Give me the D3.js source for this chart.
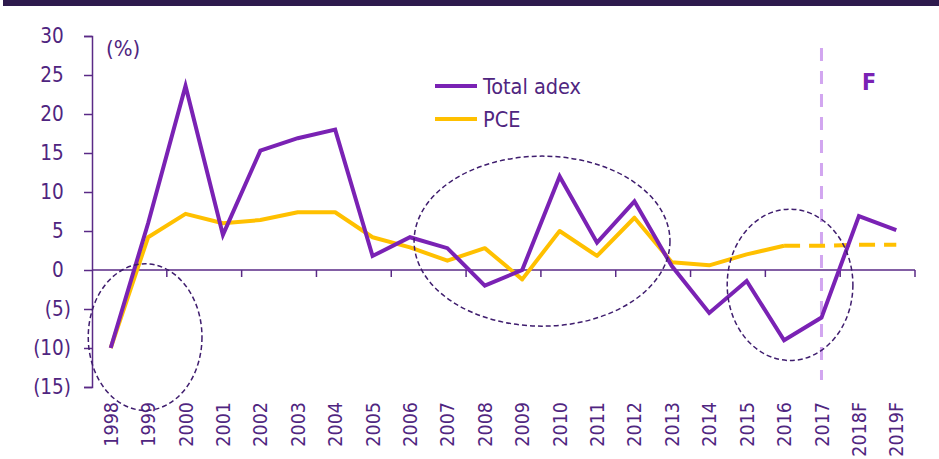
<!DOCTYPE html>
<html>
<head>
<meta charset="utf-8">
<script src="https://cdn.jsdelivr.net/npm/d3@7"></script>
<style>
  html, body { margin: 0; padding: 0; background: #fff; }
  .chart text { font-family: "DejaVu Sans Condensed", "DejaVu Sans", sans-serif; }
</style>
</head>
<body>
<div class="chart"></div>
<script>
// Categories on the x axis
const years = ["1998", "1999", "2000", "2001", "2002", "2003", "2004", "2005", "2006", "2007", "2008",
    "2009", "2010", "2011", "2012", "2013", "2014", "2015", "2016", "2017", "2018F", "2019F"]
// Growth, %
const totalAdex = [-10, 6, 23.6, 4.5, 15.3, 16.9, 18.0, 1.8, 4.2, 2.8, -2.0,
    0, 12.0, 3.5, 8.8, 0.5, -5.5, -1.4, -9.0, -6.1, 6.9, 5.1]
const pce = [-10, 4.2, 7.2, 6.0, 6.4, 7.4, 7.4, 4.2, 2.9, 1.2, 2.8,
    -1.2, 5.0, 1.8, 6.7, 1.0, 0.6, 2.0, 3.1, 3.1, 3.25, 3.25]
// PCE is drawn dashed from this year on
const pceDashFrom = "2016"
// Forecast divider sits on this year
const forecastAt = "2017"
// Y ticks
const yTicks = [-15, -10, -5, 0, 5, 10, 15, 20, 25, 30]
// Highlight ellipses: centre (category index, value), radii (categories, value units)
const ellipses = [
    {cx: 0.92, cy: -8.6, rx: 1.52, ry: 9.4},
    {cx: 11.53, cy: 3.7, rx: 3.42, ry: 10.9},
    {cx: 18.16, cy: -1.9, rx: 1.68, ry: 9.7}
]

const width = 939
const height = 459
const margin = {top: 36, right: 24, bottom: 72, left: 92}

const purple = "#7a22b4"
const yellow = "#ffc000"
const ink = "#4f2580"
const axisColor = "#5a2a86"

const svg = d3.select(".chart").append("svg")
    .attr("width", width)
    .attr("height", height)
    .attr("viewBox", [0, 0, width, height])

// Dark band at the top
svg.append("rect")
    .attr("x", 3).attr("y", 0)
    .attr("width", width - 3).attr("height", 6)
    .attr("fill", "#2e1a4d")

const x = d3.scaleBand()
    .domain(years)
    .range([margin.left, width - margin.right])
    .padding(0)
const cx = d => x(d) + x.bandwidth() / 2

const y = d3.scaleLinear()
    .domain([-15, 30])
    .range([height - margin.bottom, margin.top])

const fmt = v => v < 0 ? `(${Math.abs(v)})` : `${v}`

// Y axis
const yAxis = svg.append("g")
    .attr("transform", `translate(${margin.left},0)`)
    .call(d3.axisLeft(y).tickValues(yTicks).tickSize(8).tickPadding(0).tickFormat(""))
yAxis.select(".domain").attr("stroke", axisColor).attr("stroke-width", 1.5)
yAxis.selectAll(".tick line").attr("stroke", axisColor).attr("stroke-width", 1.5)

// Y labels, positives padded with an invisible ")" so digits line up
const yLab = svg.append("g")
    .selectAll()
    .data(yTicks)
    .join("text")
        .attr("x", 71)
        .attr("y", d => y(d))
        .attr("dy", "0.36em")
        .attr("text-anchor", "end")
        .attr("fill", ink)
        .attr("font-size", "20.5px")
yLab.append("tspan").text(d => fmt(d))
yLab.filter(d => d >= 0).append("tspan").attr("fill-opacity", 0).text(")")

// X axis along zero, ticks every second category boundary
const xAxisG = svg.append("g")
xAxisG.append("line")
    .attr("x1", margin.left).attr("x2", width - margin.right)
    .attr("y1", y(0)).attr("y2", y(0))
    .attr("stroke", axisColor).attr("stroke-width", 1.5)
xAxisG.selectAll("line.tick")
    .data(years.filter((d, i) => i % 2 === 1))
    .join("line")
        .attr("class", "tick")
        .attr("x1", d => x(d) + x.bandwidth()).attr("x2", d => x(d) + x.bandwidth())
        .attr("y1", y(0)).attr("y2", y(0) + 7)
        .attr("stroke", axisColor).attr("stroke-width", 1.5)

// X labels, rotated
svg.append("g")
    .selectAll()
    .data(years)
    .join("text")
        .attr("transform", d => `translate(${cx(d)},402) rotate(-90)`)
        .attr("dy", "0.36em")
        .attr("text-anchor", "end")
        .attr("fill", ink)
        .attr("font-size", "19.5px")
        .text(d => d)

// (%) unit label
svg.append("text")
    .attr("x", 106).attr("y", y(28.4))
    .attr("dy", "0.36em")
    .attr("fill", ink)
    .attr("font-size", "22px")
    .text("(%)")

// Forecast divider
svg.append("line")
    .attr("x1", cx(forecastAt)).attr("x2", cx(forecastAt))
    .attr("y1", 48).attr("y2", 380)
    .attr("stroke", "#d2a6f0")
    .attr("stroke-width", 3)
    .attr("stroke-dasharray", "13 10")

svg.append("text")
    .attr("x", 862).attr("y", 90)
    .attr("fill", purple)
    .attr("font-size", "23px")
    .attr("font-weight", "bold")
    .text("F")

// Series lines
const line = d3.line()
    .x(d => cx(d.year))
    .y(d => y(d.value))

const adexData = years.map((yr, i) => ({year: yr, value: totalAdex[i]}))
const pceData = years.map((yr, i) => ({year: yr, value: pce[i]}))
const cut = years.indexOf(pceDashFrom)

svg.append("path")
    .datum(pceData.slice(0, cut + 1))
    .attr("fill", "none")
    .attr("stroke", yellow)
    .attr("stroke-width", 4)
    .attr("stroke-linejoin", "round")
    .attr("d", line)

svg.append("path")
    .datum(pceData.slice(cut))
    .attr("fill", "none")
    .attr("stroke", yellow)
    .attr("stroke-width", 4)
    .attr("stroke-dasharray", "16 9")
    .attr("d", line)

svg.append("path")
    .datum(adexData)
    .attr("fill", "none")
    .attr("stroke", purple)
    .attr("stroke-width", 4)
    .attr("stroke-linejoin", "miter")
    .attr("d", line)

// Dashed ellipses
const step = x.step()
svg.append("g")
    .selectAll()
    .data(ellipses)
    .join("ellipse")
        .attr("cx", d => margin.left + (d.cx + 0.5) * step)
        .attr("cy", d => y(d.cy))
        .attr("rx", d => d.rx * step)
        .attr("ry", d => y(0) - y(d.ry))
        .attr("fill", "none")
        .attr("stroke", "#3f1d6e")
        .attr("stroke-width", 1.5)
        .attr("stroke-dasharray", "5 3")

// Legend
const legendItems = [
    {name: "Total adex", color: purple},
    {name: "PCE", color: yellow}
]
const legend = svg.append("g")
    .selectAll()
    .data(legendItems)
    .join("g")
        .attr("transform", (d, i) => `translate(435,${86 + i * 33})`)
legend.append("line")
    .attr("x1", 0).attr("x2", 42)
    .attr("stroke", d => d.color)
    .attr("stroke-width", 4)
legend.append("text")
    .attr("x", 48)
    .attr("dy", "0.36em")
    .attr("fill", ink)
    .attr("font-size", "21.5px")
    .text(d => d.name)
</script>
</body>
</html>
